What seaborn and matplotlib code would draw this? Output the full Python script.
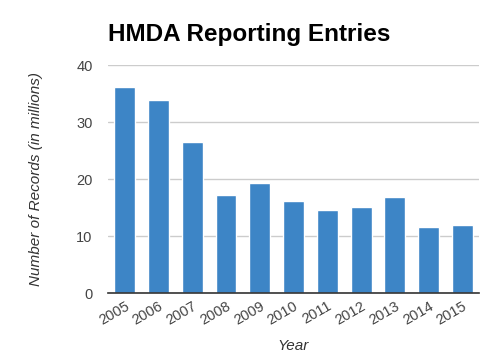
import pandas as pd
import matplotlib
matplotlib.use("Agg")
import matplotlib.pyplot as plt
import seaborn as sns

years = ["2005", "2006", "2007", "2008", "2009", "2010", "2011", "2012", "2013", "2014", "2015"]
records = [36.2, 33.9, 26.5, 17.2, 19.3, 16.2, 14.6, 15.1, 16.9, 11.6, 12.0]

df = pd.DataFrame({"Year": years, "Records": records})

sns.set_style("white")
plt.rcParams["font.family"] = ["Liberation Sans", "DejaVu Sans"]

fig = plt.figure(figsize=(4.86, 3.6), dpi=100)
ax = fig.add_axes([0.222, 0.185, 0.764, 0.634])

sns.barplot(data=df, x="Year", y="Records", color="#3d85c6", saturation=1, width=0.62, ax=ax)

ax.set_ylim(0, 40)
ax.set_yticks([0, 10, 20, 30, 40])
ax.yaxis.grid(True, color="#cccccc", linewidth=1)
ax.set_axisbelow(True)
for s in ["top", "right", "left"]:
    ax.spines[s].set_visible(False)
ax.spines["bottom"].set_color("#333333")
ax.spines["bottom"].set_linewidth(1.2)
ax.tick_params(axis="both", length=0, labelsize=10.5, colors="#444444")
ax.tick_params(axis="y", pad=11)
ax.tick_params(axis="x", pad=4)
plt.setp(ax.get_xticklabels(), rotation=30, ha="right", rotation_mode="anchor")

ax.set_xlabel("Year", fontsize=11, style="italic", color="#333333", labelpad=8)
ax.set_ylabel("Number of Records (in millions)", fontsize=11, style="italic", color="#333333", labelpad=24)
fig.text(0.222, 0.905, "HMDA Reporting Entries", fontsize=17.5, fontweight="bold", color="#000000", va="center")

fig.savefig("out.png", dpi=100)
